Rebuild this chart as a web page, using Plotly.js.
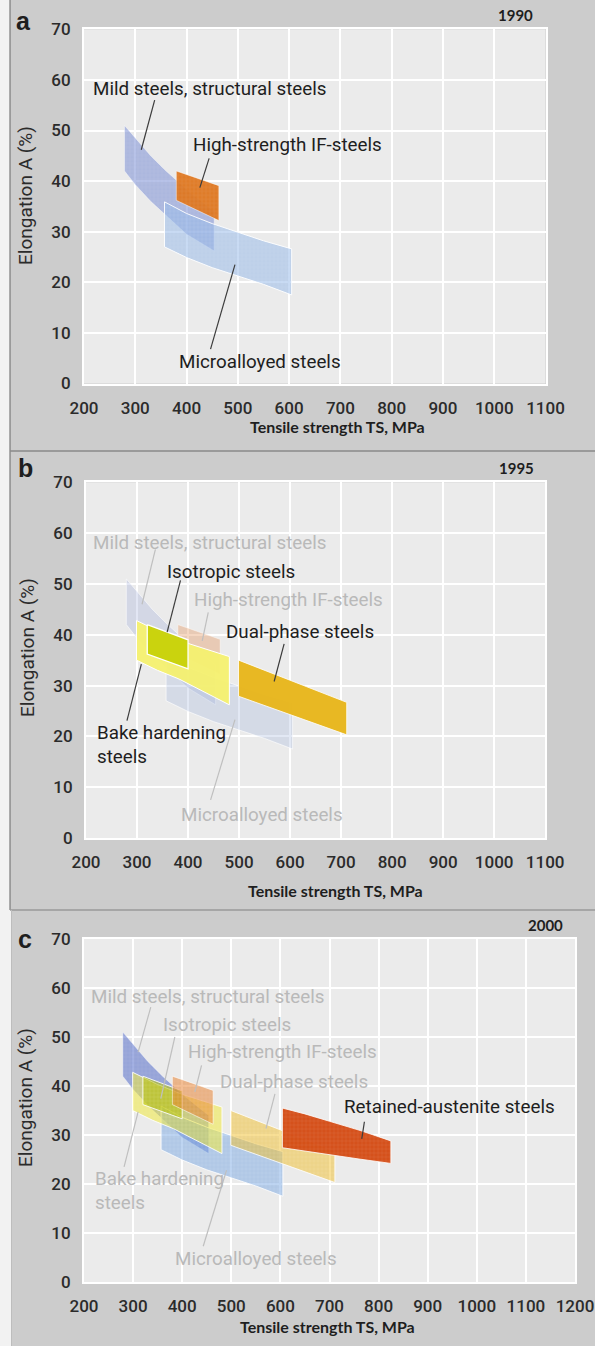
<!DOCTYPE html>
<html>
<head>
<meta charset="utf-8">
<script src="https://cdn.plot.ly/plotly-3.0.1.min.js"></script>
<style>
  html, body { margin: 0; padding: 0; background: #cccccc; }
  #chart { width: 595px; height: 1346px; }
</style>
</head>
<body>
<div id="chart"></div>
<script>
// ---------------- DATA (tensile strength TS in MPa, elongation A in %) ----------------
// Mild steels, structural steels
const mildUpperTS = [279, 300, 330, 360, 380, 410, 454];
const mildUpperA  = [51, 48.5, 45, 42, 40.2, 37.5, 34];
const mildLowerTS = [279, 300, 330, 360, 400, 454];
const mildLowerA  = [42, 39.3, 36, 33.2, 29.5, 26.2];
// Microalloyed steels
const microTS      = [357, 400, 450, 500, 550, 605];
const microUpperA  = [35.9, 33.6, 31.6, 29.9, 28.2, 26.6];
const microLowerA  = [27, 24.9, 22.9, 21.2, 19.6, 17.5];
// High-strength IF-steels
const ifTS      = [380, 463];
const ifUpperA  = [42, 39.1];
const ifLowerA  = [36.2, 32.2];
// Bake hardening steels
const bakeUpperTS = [299, 350, 400, 440, 481];
const bakeUpperA  = [42.8, 40.3, 38.3, 37, 35.7];
const bakeLowerTS = [299, 340, 382, 430, 481];
const bakeLowerA  = [35, 33, 31.3, 28.9, 26.2];
// Isotropic steels
const isoTS      = [320, 400];
const isoUpperA  = [42, 39];
const isoLowerA  = [36.2, 33.3];
// Dual-phase steels
const dpTS      = [499, 600, 711];
const dpUpperA  = [35, 31.1, 26.7];
const dpLowerA  = [27.9, 24.2, 20.3];
// Retained-austenite steels
const raTS      = [604, 650, 700, 760, 825];
const raUpperA  = [35.5, 34.3, 32.8, 31, 28.8];
const raLowerA  = [27.4, 26.7, 26.0, 25.1, 24.2];

// Axis ticks
const yTicks   = [0, 10, 20, 30, 40, 50, 60, 70];
const xTicksAB = [200, 300, 400, 500, 600, 700, 800, 900, 1000, 1100];
const xTicksC  = [200, 300, 400, 500, 600, 700, 800, 900, 1000, 1100, 1200];

// Labels
const labelMild   = "Mild steels, structural steels";
const labelIF     = "High-strength IF-steels";
const labelMicro  = "Microalloyed steels";
const labelIso    = "Isotropic steels";
const labelDP     = "Dual-phase steels";
const labelBake   = "Bake hardening<br>steels";
const labelRA     = "Retained-austenite steels";

// Label anchors [TS, A] (left edge of text, vertical middle)
const labPosA = {mild:[213.9,58.2], ifs:[409.6,47.2], micro:[382.2,4.3]};
const labPosB = {mild:[210.2,58.1], iso:[355.7,52.4], ifs:[408.1,46.9], dp:[470.4,40.6], bake:[218.1,18.3], micro:[381.9,4.5]};
const labPosC = {mild:[209.6,58.2], iso:[356.4,52.5], ifs:[407.4,46.9], dp:[472,40.8], ra:[724.9,35.7], bake:[218.4,18.5], micro:[381.6,4.6]};

// Leader lines [ts0, a0, ts1, a1]
const leadA = {mild:[337.8,56,311.7,46.2], ifs:[444,44.5,425.9,38.7], micro:[446.8,6.8,494.4,23.5]};
const leadB = {mild:[336,56.8,309.8,46], iso:[385.2,50.7,359,40.5], ifs:[439.6,44.4,427.8,38.8], dp:[588.3,38.2,568.7,30.8], bake:[308.5,34.2,280.3,23.1], micro:[444.2,7.5,492,23.3]};
const leadC = {mild:[336,56.1,310.2,46.9], iso:[385,50,356.4,37.4], ifs:[439.4,44.2,425.8,38.8], dp:[588.9,38.4,570.6,31.3], ra:[771.1,32.7,765.7,29.2], bake:[310.2,34.7,281.6,23.5], micro:[442.8,7.3,490.3,22.8]};

const years = ["1990", "1995", "2000"];
const panelLetters = ["a", "b", "c"];
const xTitle = "Tensile strength TS, MPa";
const yTitle = "Elongation A (%)";

// ---------------- HELPERS ----------------
function band(upTS, upA, loTS, loA) {
  const x = upTS.concat(loTS.slice().reverse());
  const y = upA.concat(loA.slice().reverse());
  x.push(upTS[0]); y.push(upA[0]);
  return {x, y};
}
function region(b, xa, ya, fill, lineColor, lineW, hatch) {
  const t = {
    type: 'scatter', mode: 'lines', x: b.x, y: b.y, xaxis: xa, yaxis: ya,
    fill: 'toself', fillcolor: fill,
    line: {color: lineColor || 'rgba(255,255,255,0.85)', width: lineW === undefined ? 1 : lineW},
    hoverinfo: 'skip', showlegend: false
  };
  if (hatch) {
    t.fillpattern = {shape: '+', size: 4, solidity: 0.12, fillmode: 'replace',
                     bgcolor: fill, fgcolor: '#ffffff', fgopacity: 0.22};
  }
  return t;
}
function leader(seg, xa, ya, color) {
  return {
    type: 'scatter', mode: 'lines', x: [seg[0], seg[2]], y: [seg[1], seg[3]],
    xaxis: xa, yaxis: ya, line: {color: color, width: 1.2},
    hoverinfo: 'skip', showlegend: false
  };
}

const mildB  = band(mildUpperTS, mildUpperA, mildLowerTS, mildLowerA);
const microB = band(microTS, microUpperA, microTS, microLowerA);
const ifB    = band(ifTS, ifUpperA, ifTS, ifLowerA);
const bakeB  = band(bakeUpperTS, bakeUpperA, bakeLowerTS, bakeLowerA);
const isoB   = band(isoTS, isoUpperA, isoTS, isoLowerA);
const dpB    = band(dpTS, dpUpperA, dpTS, dpLowerA);
const raB    = band(raTS, raUpperA, raTS, raLowerA);

const DARK = '#1e1e1e', FADE = '#b9b9b9', LDARK = '#3c3c3c', LFADE = '#bfbfbf';

const traces = [
  // Panel a (1990)
  region(mildB, 'x', 'y', 'rgba(120,140,210,0.55)', 'rgba(255,255,255,0.5)', 0.8, true),
  region(microB, 'x', 'y', 'rgba(150,185,230,0.55)', 'rgba(255,255,255,0.9)', 1, true),
  region(ifB, 'x', 'y', 'rgba(222,118,30,0.95)', 'rgba(255,255,255,0.6)', 0.8, true),
  leader(leadA.mild, 'x', 'y', LDARK),
  leader(leadA.ifs, 'x', 'y', LDARK),
  leader(leadA.micro, 'x', 'y', LDARK),

  // Panel b (1995)
  region(mildB, 'x2', 'y2', 'rgba(150,165,215,0.28)', 'rgba(255,255,255,0.7)', 0.8),
  region(microB, 'x2', 'y2', 'rgba(160,180,220,0.3)', 'rgba(255,255,255,0.8)', 0.8),
  region(ifB, 'x2', 'y2', 'rgba(225,140,80,0.35)', 'rgba(255,255,255,0.6)', 0.8),
  region(bakeB, 'x2', 'y2', 'rgba(245,240,112,0.96)', '#ffffff', 1),
  region(isoB, 'x2', 'y2', 'rgba(200,210,10,0.97)', '#ffffff', 1.3),
  region(dpB, 'x2', 'y2', 'rgba(231,182,28,0.97)', 'rgba(255,255,255,0.8)', 1),
  leader(leadB.mild, 'x2', 'y2', LFADE),
  leader(leadB.ifs, 'x2', 'y2', LFADE),
  leader(leadB.micro, 'x2', 'y2', LFADE),
  leader(leadB.iso, 'x2', 'y2', LDARK),
  leader(leadB.dp, 'x2', 'y2', LDARK),
  leader(leadB.bake, 'x2', 'y2', LDARK),

  // Panel c (2000)
  region(mildB, 'x3', 'y3', 'rgba(80,105,200,0.55)', 'rgba(255,255,255,0.5)', 0.8, true),
  region(microB, 'x3', 'y3', 'rgba(120,165,225,0.5)', 'rgba(255,255,255,0.8)', 1, true),
  region(bakeB, 'x3', 'y3', 'rgba(240,232,60,0.55)', 'rgba(255,255,255,0.85)', 1, true),
  region(isoB, 'x3', 'y3', 'rgba(180,190,0,0.55)', 'rgba(255,255,255,0.85)', 1, true),
  region(ifB, 'x3', 'y3', 'rgba(230,130,50,0.55)', 'rgba(255,255,255,0.7)', 0.8, true),
  region(dpB, 'x3', 'y3', 'rgba(240,190,40,0.5)', 'rgba(255,255,255,0.8)', 1, true),
  region(raB, 'x3', 'y3', 'rgba(212,76,22,0.97)', 'rgba(255,255,255,0.8)', 1, true),
  leader(leadC.mild, 'x3', 'y3', LFADE),
  leader(leadC.iso, 'x3', 'y3', LFADE),
  leader(leadC.ifs, 'x3', 'y3', LFADE),
  leader(leadC.dp, 'x3', 'y3', LFADE),
  leader(leadC.bake, 'x3', 'y3', LFADE),
  leader(leadC.micro, 'x3', 'y3', LFADE),
  leader(leadC.ra, 'x3', 'y3', LDARK)
];

// ---------------- LAYOUT ----------------
const W = 595, H = 1346;
const px = v => v / W;
const py = v => 1 - v / H;

const tickFont = {family: 'Roboto, sans-serif', size: 17, color: '#2b2b2b', weight: 500};
function xAxis(domain, range, ticks, anchor) {
  return {
    domain: domain, range: range, anchor: anchor, tickvals: ticks, ticktext: ticks.map(String),
    showgrid: true, gridcolor: '#ffffff', gridwidth: 2, zeroline: false,
    showline: true, linecolor: '#ffffff', linewidth: 2, mirror: true,
    ticks: '', tickfont: tickFont, ticklabelstandoff: 8, fixedrange: true
  };
}
function yAxis(domain, anchor) {
  return {
    domain: domain, range: [0, 70], anchor: anchor, tickvals: yTicks, ticktext: yTicks.map(String),
    showgrid: true, gridcolor: '#ffffff', gridwidth: 2, zeroline: false,
    showline: true, linecolor: '#ffffff', linewidth: 2, mirror: true,
    ticks: '', tickfont: tickFont, ticklabelstandoff: 8, fixedrange: true
  };
}

const labFont = (c) => ({family: 'Roboto, sans-serif', size: 18.8, color: c});
function lab(text, pos, xr, yr, color) {
  return {text: text, x: pos[0], y: pos[1], xref: xr, yref: yr, xanchor: 'left', yanchor: 'middle',
          align: 'left', showarrow: false, font: labFont(color)};
}
function paperText(text, x, y, font, extra) {
  return Object.assign({text: text, x: px(x), y: py(y), xref: 'paper', yref: 'paper',
          xanchor: 'center', yanchor: 'middle', showarrow: false, font: font}, extra || {});
}
const yTitleFont = {family: 'Roboto, sans-serif', size: 19, color: '#2b2b2b'};
const xTitleFont = {family: 'Lato, sans-serif', size: 16, color: '#1e1e1e', weight: 700};
const yearFont   = {family: 'Lato, sans-serif', size: 15, color: '#1e1e1e', weight: 700};
const letterFont = {family: 'Liberation Sans, Arial, sans-serif', size: 25, color: '#1e1e1e', weight: 700};

const annotations = [
  // panel a
  lab(labelMild, labPosA.mild, 'x', 'y', DARK),
  lab(labelIF, labPosA.ifs, 'x', 'y', DARK),
  lab(labelMicro, labPosA.micro, 'x', 'y', DARK),
  // panel b
  lab(labelMild, labPosB.mild, 'x2', 'y2', FADE),
  lab(labelIso, labPosB.iso, 'x2', 'y2', DARK),
  lab(labelIF, labPosB.ifs, 'x2', 'y2', FADE),
  lab(labelDP, labPosB.dp, 'x2', 'y2', DARK),
  lab(labelBake, labPosB.bake, 'x2', 'y2', DARK),
  lab(labelMicro, labPosB.micro, 'x2', 'y2', FADE),
  // panel c
  lab(labelMild, labPosC.mild, 'x3', 'y3', FADE),
  lab(labelIso, labPosC.iso, 'x3', 'y3', FADE),
  lab(labelIF, labPosC.ifs, 'x3', 'y3', FADE),
  lab(labelDP, labPosC.dp, 'x3', 'y3', FADE),
  lab(labelRA, labPosC.ra, 'x3', 'y3', DARK),
  lab(labelBake, labPosC.bake, 'x3', 'y3', FADE),
  lab(labelMicro, labPosC.micro, 'x3', 'y3', FADE),
  // titles
  paperText(yTitle, 25, 196, yTitleFont, {textangle: -90}),
  paperText(yTitle, 27, 648, yTitleFont, {textangle: -90}),
  paperText(yTitle, 25, 1098, yTitleFont, {textangle: -90}),
  paperText(xTitle, 337, 426, xTitleFont),
  paperText(xTitle, 335, 890, xTitleFont),
  paperText(xTitle, 327, 1326, xTitleFont),
  paperText(years[0], 515, 15, yearFont),
  paperText(years[1], 516, 468, yearFont),
  paperText(years[2], 545, 925, yearFont),
  paperText(panelLetters[0], 23, 21, letterFont),
  paperText(panelLetters[1], 25, 468, letterFont),
  paperText(panelLetters[2], 25, 939, letterFont)
];

const shapes = [
  {type: 'rect', xref: 'paper', yref: 'paper', x0: 0, x1: px(10), y0: py(910), y1: 1, fillcolor: '#f2f2f2', line: {width: 0}, layer: 'below'},
  {type: 'rect', xref: 'paper', yref: 'paper', x0: 0, x1: px(11), y0: 0, y1: py(910), fillcolor: '#f2f2f2', line: {width: 0}, layer: 'below'},
  {type: 'line', xref: 'paper', yref: 'paper', x0: px(10), x1: px(10), y0: py(910), y1: 1, line: {color: '#7a7a7a', width: 1.2}},
  {type: 'line', xref: 'paper', yref: 'paper', x0: px(10), x1: 1, y0: py(451), y1: py(451), line: {color: '#8a8a8a', width: 1.5}},
  {type: 'line', xref: 'paper', yref: 'paper', x0: px(10), x1: 1, y0: py(910), y1: py(910), line: {color: '#9a9a9a', width: 1.5}},
  {type: 'line', xref: 'paper', yref: 'paper', x0: px(11.5), x1: px(11.5), y0: 0, y1: py(910), line: {color: '#bdbdbd', width: 1}}
];

const layout = {
  width: W, height: H,
  margin: {l: 0, r: 0, t: 0, b: 0, pad: 0},
  paper_bgcolor: '#cccccc', plot_bgcolor: '#ebebeb',
  showlegend: false,
  xaxis:  xAxis([px(84), px(545.5)], [200, 1100], xTicksAB, 'y'),
  yaxis:  yAxis([py(383.5), py(29.3)], 'x'),
  xaxis2: xAxis([px(86), px(545.2)], [200, 1100], xTicksAB, 'y2'),
  yaxis2: yAxis([py(838), py(482.3)], 'x2'),
  xaxis3: xAxis([px(84), px(575)], [200, 1200], xTicksC, 'y3'),
  yaxis3: yAxis([py(1282), py(939)], 'x3'),
  annotations: annotations,
  shapes: shapes
};

Plotly.newPlot('chart', traces, layout, {displayModeBar: false, staticPlot: true});
</script>
</body>
</html>
